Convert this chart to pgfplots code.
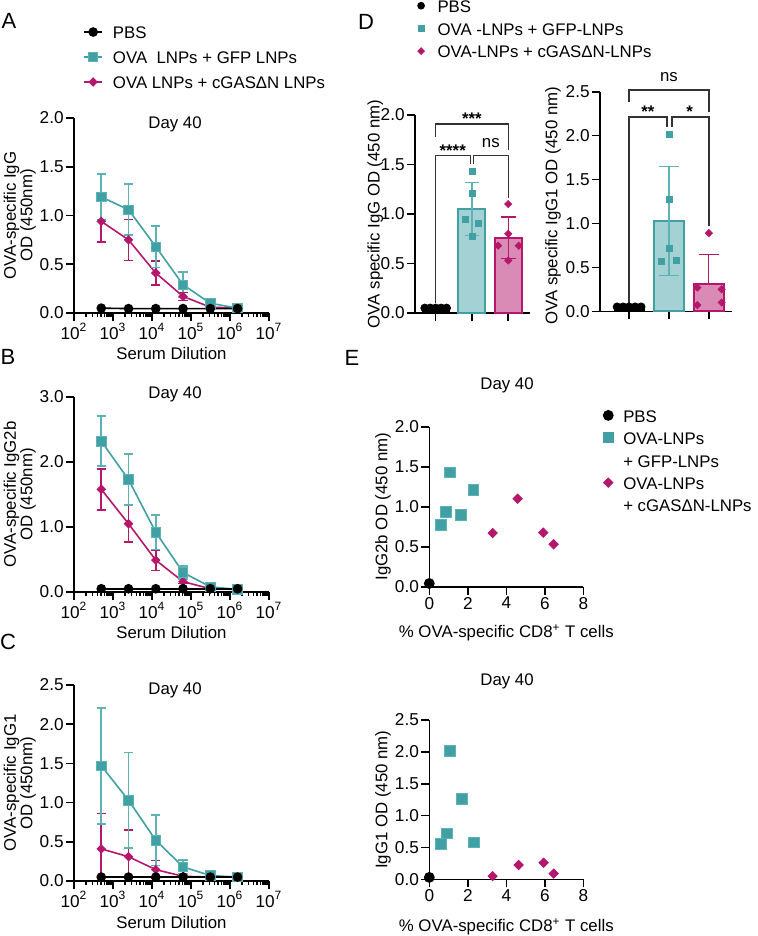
\documentclass[border=0pt]{standalone}
\usepackage{pgfplots}
\pgfplotsset{compat=1.18}
\usepackage{fontspec}
\setmainfont{Liberation Sans}
\definecolor{tealc}{HTML}{40A0A4}
\definecolor{tealerr}{HTML}{5CB2B5}
\definecolor{magc}{HTML}{B5176C}
\definecolor{tealfill}{HTML}{A4D1D3}
\definecolor{magfill}{HTML}{D98BB5}
\definecolor{brk}{HTML}{333333}
\newcommand{\lblfont}{\fontsize{8.4}{8.3}\selectfont}
\newcommand{\tickfont}{\fontsize{8.6}{10}\selectfont}
\newcommand{\letfont}{\fontsize{11}{13}\selectfont}
\pgfplotsset{
  base/.style={
    scale only axis, anchor=south west,
    axis lines=left,
    axis line style={-, line width=0.8pt},
    tick align=outside,
    major tick length=4pt,
    minor tick length=2pt,
    every tick/.style={black, line width=0.8pt},
    tick label style={font=\tickfont, inner sep=1pt},
    label style={font=\lblfont},
    title style={font=\lblfont},
    /pgf/number format/assume math mode=true,
    yticklabel style={/pgf/number format/fixed, /pgf/number format/fixed zerofill, /pgf/number format/precision=1},
    legend style={draw=none, fill=none, font=\lblfont, inner sep=0pt, row sep=0pt,
      nodes={inner sep=1pt, text height=1.7ex, text depth=0.4ex}},
    legend cell align=left,
  },
  dilx/.style={
    xmin=100, xmax=1e7,
    xtick={1e2,1e3,1e4,1e5,1e6,1e7},
    xticklabels={10\textsuperscript{2},10\textsuperscript{3},10\textsuperscript{4},10\textsuperscript{5},10\textsuperscript{6},10\textsuperscript{7}},
    minor xtick={2e2,3e2,4e2,5e2,6e2,7e2,8e2,9e2,2e3,3e3,4e3,5e3,6e3,7e3,8e3,9e3,2e4,3e4,4e4,5e4,6e4,7e4,8e4,9e4,2e5,3e5,4e5,5e5,6e5,7e5,8e5,9e5,2e6,3e6,4e6,5e6,6e6,7e6,8e6,9e6},
    xlabel={Serum Dilution},
    xlabel style={at={(axis description cs:0.5,-0.21)}, anchor=center},
    ylabel style={align=center, at={(axis description cs:-0.278,0.5)}, anchor=center},
    width=97.5pt,
  },
  tealS/.style={color=tealc, line width=0.8pt, mark=square*, mark size=2.35pt, mark options={solid, fill=tealc, draw=tealerr, line width=0.4pt}},
  magS/.style={color=magc, line width=0.8pt, mark=square*, mark size=1.3pt, mark options={solid, fill=magc, rotate=45}},
  pbsS/.style={color=black, line width=0.8pt, mark=*, mark size=2pt},
  errT/.style={error bars/y dir=both, error bars/y explicit, error bars/error bar style={color=tealerr, line width=0.8pt}, error bars/error mark options={rotate=90, mark size=2.3pt, line width=0.8pt, color=tealerr}},
  errM/.style={error bars/y dir=both, error bars/y explicit, error bars/error bar style={color=magc, line width=0.8pt}, error bars/error mark options={rotate=90, mark size=2.3pt, line width=0.8pt, color=magc}},
  lineleg/.style={legend image code/.code={\draw[mark repeat=2, mark phase=2, ##1] plot coordinates {(0pt,0pt) (4.5pt,0pt) (9pt,0pt)};}},
  markleg/.style={legend image code/.code={\draw[##1] plot coordinates {(0pt,0pt)};}},
}
\begin{document}
\begin{tikzpicture}
\useasboundingbox (0pt,0pt) rectangle (379pt,-468pt);
\node[font=\letfont] at (4.5pt,-10.5pt) {A};
\node[font=\letfont] at (4pt,-178.5pt) {B};
\node[font=\letfont] at (4pt,-321pt) {C};
\node[font=\letfont] at (183pt,-11pt) {D};
\node[font=\letfont] at (176pt,-179pt) {E};

% ---------------- A
\begin{axis}[xmode=log, base, dilx, at={(37pt,-156.5pt)}, height=97.5pt,
  ymin=0, ymax=2, ytick={0,0.5,1,1.5,2},
  ylabel={OVA-specific IgG\\OD (450nm)},
  title={Day 40}, title style={at={(axis description cs:0.518,0.908)}, anchor=center},
  lineleg,
  legend style={at={(axis description cs:0.046,1.51)}, anchor=north west, row sep=-0.6pt, column sep=4pt}]
\addlegendimage{pbsS}\addlegendentry{PBS}
\addlegendimage{tealS}\addlegendentry{OVA\ \ LNPs + GFP LNPs}
\addlegendimage{magS}\addlegendentry{OVA LNPs + cGASΔN LNPs}
\addplot[magS, forget plot, errM] coordinates {
 (500,0.94) +- (0,0.21) (2500,0.75) +- (0,0.21) (12500,0.41) +- (0,0.125)
 (62500,0.17) +- (0,0.04) (312500,0.06) +- (0,0.01) (1562500,0.05) +- (0,0)};
\addplot[tealS, forget plot, errT] coordinates {
 (500,1.19) +- (0,0.235) (2500,1.06) +- (0,0.26) (12500,0.68) +- (0,0.215)
 (62500,0.29) +- (0,0.13) (312500,0.10) +- (0,0.03) (1562500,0.05) +- (0,0.01)};
\addplot[pbsS, forget plot] coordinates {
 (500,0.05) (2500,0.045) (12500,0.045) (62500,0.045) (312500,0.045) (1562500,0.045)};
\end{axis}

% ---------------- B
\begin{axis}[xmode=log, base, dilx, at={(37pt,-296pt)}, height=97.5pt,
  ymin=0, ymax=3, ytick={0,1,2,3},
  title={Day 40}, title style={at={(axis description cs:0.518,0.951)}, anchor=center},
  ylabel={OVA-specific IgG2b\\OD (450nm)}]
\addplot[magS, errM] coordinates {
 (500,1.58) +- (0,0.315) (2500,1.05) +- (0,0.28) (12500,0.49) +- (0,0.16)
 (62500,0.16) +- (0,0.03) (312500,0.05) +- (0,0.01) (1562500,0.04) +- (0,0)};
\addplot[tealS, errT] coordinates {
 (500,2.32) +- (0,0.385) (2500,1.73) +- (0,0.395) (12500,0.92) +- (0,0.265)
 (62500,0.30) +- (0,0.10) (312500,0.08) +- (0,0.03) (1562500,0.04) +- (0,0.01)};
\addplot[pbsS] coordinates {
 (500,0.05) (2500,0.05) (12500,0.05) (62500,0.05) (312500,0.05) (1562500,0.05)};
\end{axis}

% ---------------- C
\begin{axis}[xmode=log, base, dilx, at={(37pt,-440.5pt)}, height=98pt,
  ymin=0, ymax=2.5, ytick={0,0.5,1,1.5,2,2.5},
  title={Day 40}, title style={at={(axis description cs:0.518,0.910)}, anchor=center},
  ylabel={OVA-specific IgG1\\OD (450nm)}]
\addplot[magS, errM] coordinates {
 (500,0.41) +- (0,0.45) (2500,0.31) +- (0,0.34) (12500,0.145) +- (0,0.115)
 (62500,0.06) +- (0,0.01) (312500,0.05) +- (0,0) (1562500,0.05) +- (0,0)};
\addplot[tealS, errT] coordinates {
 (500,1.47) +- (0,0.74) (2500,1.03) +- (0,0.61) (12500,0.52) +- (0,0.32)
 (62500,0.18) +- (0,0.09) (312500,0.07) +- (0,0.02) (1562500,0.05) +- (0,0.01)};
\addplot[pbsS] coordinates {
 (500,0.05) (2500,0.05) (12500,0.05) (62500,0.05) (312500,0.05) (1562500,0.05)};
\end{axis}

% ---------------- D left
\begin{axis}[base, at={(207.5pt,-156.5pt)}, width=57.5pt, height=99pt,
  xmin=-0.57, xmax=2.6, ymin=0, ymax=2, ytick={0,0.5,1,1.5,2},
  xtick={0,1,2}, xticklabels={}, clip=false, bar width=13.5pt,
  ylabel={OVA specific IgG OD (450 nm)},
  ylabel style={at={(axis description cs:-0.345,0.5)}, anchor=center},
  markleg,
  legend style={at={(axis description cs:0.02,1.62)}, anchor=north west, column sep=5.5pt, row sep=-1.75pt}]
\addlegendimage{only marks, mark=*, black, mark size=1.7pt}\addlegendentry{PBS}
\addlegendimage{only marks, mark=square*, tealc, mark size=1.6pt}\addlegendentry{OVA -LNPs + GFP-LNPs}
\addlegendimage{only marks, mark=square*, magc, mark size=1.2pt, mark options={rotate=45}}\addlegendentry{OVA-LNPs + cGASΔN-LNPs}
\addplot[ybar, bar shift=0pt, fill=black, draw=black, forget plot] coordinates {(0,0.05)};
\addplot[only marks, mark=*, black, mark size=2pt, forget plot] coordinates {(-0.3,0.05) (-0.15,0.05) (0,0.05) (0.15,0.05) (0.3,0.05)};
\addplot[ybar, bar shift=0pt, fill=tealfill, draw=tealc, line width=1pt, forget plot,
  error bars/y dir=both, error bars/y explicit, error bars/error bar style={color=tealerr, line width=0.6pt},
  error bars/error mark options={rotate=90, mark size=3.7pt, line width=0.6pt, color=tealerr}] coordinates {(1,1.05) +- (0,0.265)};
\addplot[ybar, bar shift=0pt, fill=magfill, draw=magc, line width=1pt, forget plot,
  error bars/y dir=both, error bars/y explicit, error bars/error bar style={color=magc, line width=0.6pt},
  error bars/error mark options={rotate=90, mark size=3.7pt, line width=0.6pt, color=magc}] coordinates {(2,0.76) +- (0,0.21)};
\addplot[only marks, mark=square*, tealc, mark size=1.5pt, forget plot] coordinates {(1,1.43) (1,1.21) (0.81,0.95) (1.18,0.91) (1,0.77)};
\addplot[only marks, mark=square*, magc, mark size=1.25pt, mark options={rotate=45}, forget plot] coordinates {(2,1.10) (2,0.80) (1.72,0.68) (2.29,0.68) (2,0.53)};
\draw[brk, line width=0.7pt] (axis cs:0,1.78) |- (axis cs:2,1.91) -- (axis cs:2,1.65);
\draw[brk, line width=0.7pt] (axis cs:0,0.1) |- (axis cs:0.96,1.59) -- (axis cs:0.96,1.5);
\draw[brk, line width=0.7pt] (axis cs:1.05,1.5) |- (axis cs:2,1.59) -- (axis cs:2,1.16);
\node[font=\lblfont\bfseries, anchor=base] at (axis cs:1,1.90) {***};
\node[font=\lblfont\bfseries, anchor=base] at (axis cs:0.47,1.58) {****};
\node[font=\lblfont, anchor=base] at (axis cs:1.52,1.67) {ns};
\end{axis}

% ---------------- D right
\begin{axis}[base, at={(300pt,-155.65pt)}, width=66pt, height=109.8pt,
  xmin=-0.73, xmax=2.58, ymin=0, ymax=2.5, ytick={0,0.5,1,1.5,2,2.5},
  xtick={0,1,2}, xticklabels={}, clip=false, bar width=15pt,
  ylabel={OVA specific IgG1 OD (450 nm)},
  ylabel style={at={(axis description cs:-0.356,0.48)}, anchor=center}]
\addplot[ybar, bar shift=0pt, fill=black, draw=black] coordinates {(0,0.05)};
\addplot[only marks, mark=*, black, mark size=2pt] coordinates {(-0.3,0.05) (-0.15,0.05) (0,0.05) (0.15,0.05) (0.3,0.05)};
\addplot[ybar, bar shift=0pt, fill=tealfill, draw=tealc, line width=1pt,
  error bars/y dir=both, error bars/y explicit, error bars/error bar style={color=tealerr, line width=0.6pt},
  error bars/error mark options={rotate=90, mark size=5pt, line width=0.6pt, color=tealerr}] coordinates {(1,1.03) +- (0,0.62)};
\addplot[ybar, bar shift=0pt, fill=magfill, draw=magc, line width=1pt,
  error bars/y dir=plus, error bars/y explicit, error bars/error bar style={color=magc, line width=0.6pt},
  error bars/error mark options={rotate=90, mark size=5pt, line width=0.6pt, color=magc}] coordinates {(2,0.31) +- (0,0.34)};
\addplot[only marks, mark=square*, tealc, mark size=1.5pt] coordinates {(1,2.01) (1,1.27) (1,0.72) (0.81,0.57) (1.19,0.58)};
\addplot[only marks, mark=square*, magc, mark size=1.25pt, mark options={rotate=45}] coordinates {(2,0.89) (1.71,0.27) (2.32,0.25) (1.71,0.07) (2.32,0.10)};
\draw[brk, line width=0.7pt] (axis cs:0,2.38) |- (axis cs:2,2.52) -- (axis cs:2,2.27);
\draw[brk, line width=0.7pt] (axis cs:0,0.1) |- (axis cs:0.95,2.21) -- (axis cs:0.95,2.10);
\draw[brk, line width=0.7pt] (axis cs:1.08,2.10) |- (axis cs:2,2.21) -- (axis cs:2,0.97);
\node[font=\lblfont, anchor=base] at (axis cs:1,2.62) {ns};
\node[font=\lblfont\bfseries, anchor=base] at (axis cs:0.47,2.21) {**};
\node[font=\lblfont\bfseries, anchor=base] at (axis cs:1.52,2.21) {*};
\end{axis}

% ---------------- E top
\begin{axis}[base, at={(214.65pt,-293.35pt)}, width=77pt, height=80pt,
  xmin=0, xmax=8, ymin=0, ymax=2, xtick={0,2,4,6,8}, ytick={0,0.5,1,1.5,2},
  clip=false,
  xlabel={\% OVA-specific CD8\textsuperscript{+} T cells},
  xlabel style={at={(axis description cs:0.5,-0.29)}, anchor=center},
  ylabel={IgG2b OD (450 nm)},
  ylabel style={at={(axis description cs:-0.30,0.5)}, anchor=center},
  title={Day 40}, title style={at={(axis description cs:0.505,1.185)}, anchor=center},
  markleg,
  legend style={at={(axis description cs:1.127,1.155)}, anchor=north west, column sep=4pt, row sep=-1.9pt}]
\addlegendimage{only marks, mark=*, black, mark size=2.5pt}\addlegendentry{PBS}
\addlegendimage{only marks, mark=square*, tealc, mark size=2.5pt}\addlegendentry{OVA-LNPs}
\addlegendimage{draw=none, mark=none}\addlegendentry{+ GFP-LNPs}
\addlegendimage{only marks, mark=square*, magc, mark size=1.65pt, mark options={rotate=45}}\addlegendentry{OVA-LNPs}
\addlegendimage{draw=none, mark=none}\addlegendentry{+ cGASΔN-LNPs}
\addplot[only marks, mark=square*, tealc, mark size=2.7pt, mark options={draw=tealerr, line width=0.4pt}, forget plot] coordinates {(0.61,0.77) (0.87,0.94) (1.07,1.43) (1.64,0.90) (2.29,1.21)};
\addplot[only marks, mark=square*, magc, mark size=1.65pt, mark options={rotate=45}, forget plot] coordinates {(3.29,0.67) (4.59,1.10) (5.92,0.675) (6.46,0.53)};
\addplot[only marks, mark=*, black, mark size=2.5pt, forget plot] coordinates {(0,0.04)};
\end{axis}

% ---------------- E bottom
\begin{axis}[base, at={(214.65pt,-439.65pt)}, width=77pt, height=79.65pt,
  xmin=0, xmax=8, ymin=0, ymax=2.5, xtick={0,2,4,6,8}, ytick={0,0.5,1,1.5,2,2.5},
  clip=false,
  xlabel={\% OVA-specific CD8\textsuperscript{+} T cells},
  xlabel style={at={(axis description cs:0.5,-0.30)}, anchor=center},
  ylabel={IgG1 OD (450 nm)},
  ylabel style={at={(axis description cs:-0.30,0.5)}, anchor=center},
  title={Day 40}, title style={at={(axis description cs:0.505,1.169)}, anchor=center}]
\addplot[only marks, mark=square*, tealc, mark size=2.7pt, mark options={draw=tealerr, line width=0.4pt}] coordinates {(0.61,0.555) (0.90,0.72) (1.09,2.01) (1.68,1.26) (2.30,0.58)};
\addplot[only marks, mark=square*, magc, mark size=1.65pt, mark options={rotate=45}] coordinates {(3.29,0.05) (4.64,0.225) (5.94,0.26) (6.46,0.09)};
\addplot[only marks, mark=*, black, mark size=2.5pt] coordinates {(0,0.03)};
\end{axis}
\end{tikzpicture}
\end{document}
